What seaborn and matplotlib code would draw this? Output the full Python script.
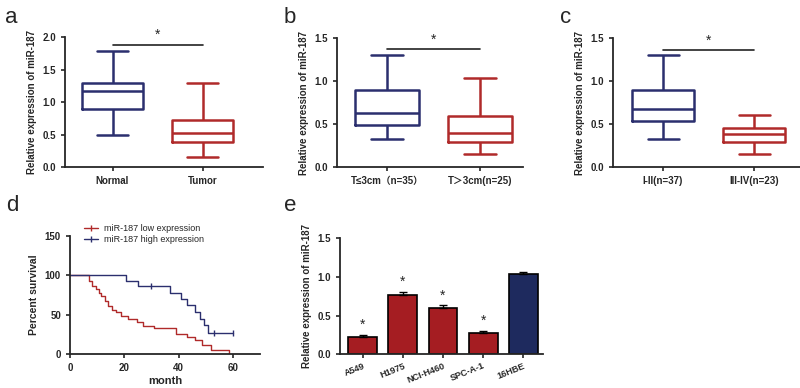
import numpy as np
import pandas as pd
import matplotlib
matplotlib.use("Agg")
import matplotlib.pyplot as plt
from matplotlib.lines import Line2D
import seaborn as sns

# box plot summaries: [min, Q1, median, Q3, max]
normal = [0.50, 0.89, 1.17, 1.30, 1.78]
tumor = [0.15, 0.38, 0.52, 0.73, 1.30]
small_t = [0.33, 0.49, 0.63, 0.90, 1.30]
large_t = [0.15, 0.29, 0.40, 0.59, 1.04]
early = [0.33, 0.54, 0.67, 0.90, 1.30]
late = [0.15, 0.29, 0.38, 0.45, 0.60]

labels_a = ["Normal", "Tumor"]
labels_b = ["T≤3cm（n=35）", "T＞3cm(n=25)"]
labels_c = ["I-II(n=37)", "III-IV(n=23)"]

# survival curves (month, percent)
low_t = [0, 6.9, 8.1, 9.6, 10.6, 11.6, 12.9, 14.1, 15.4, 16.9, 18.8, 21.3, 24.5, 26.9, 30.9, 39, 43, 46.2, 48.7, 52, 58.5]
low_s = [100, 92.4, 87, 82, 77.5, 73.3, 67, 60.6, 56.4, 53, 48.7, 44.5, 40.5, 36, 33, 26, 22.5, 18, 12, 5, 0]
high_t = [0, 20.5, 25, 37, 41, 43, 46, 48, 49.5, 50.7, 60]
high_s = [100, 92.5, 86, 77.5, 70, 62.5, 54, 45, 36.5, 27.5, 27.5]
high_cens_t = [30, 53, 60]
high_cens_s = [86, 27.5, 27.5]

# cell lines
cells = ["A549", "H1975", "NCI-H460", "SPC-A-1", "16HBE"]
cell_expr = [0.22, 0.77, 0.60, 0.28, 1.03]
cell_err = [0.03, 0.03, 0.03, 0.02, 0.03]

NAVY = "#2b2f6e"
RED = "#b02a2a"
BAR_RED = "#a51d22"
BAR_NAVY = "#1e2a5e"

sns.set_style("ticks")
plt.rcParams["font.family"] = ["Liberation Sans", "Noto Sans CJK SC", "DejaVu Sans"]
plt.rcParams["axes.linewidth"] = 1.3
plt.rcParams["xtick.major.width"] = 1.2
plt.rcParams["ytick.major.width"] = 1.2
plt.rcParams["xtick.major.size"] = 3
plt.rcParams["ytick.major.size"] = 3

fig = plt.figure(figsize=(8, 3.88), dpi=100)


def box_panel(rect, labels, g1, g2, ymax, xlim, sig_y):
    ax = fig.add_axes(rect)
    df = pd.DataFrame({"group": [labels[0]] * len(g1) + [labels[1]] * len(g2),
                       "value": g1 + g2})
    sns.boxplot(data=df, x="group", y="value", hue="group", palette=[NAVY, RED],
                fill=False, whis=(0, 100), width=0.68, linewidth=1.8, saturation=1,
                showfliers=False, legend=False, ax=ax)
    ax.set_ylim(0, ymax)
    ax.set_yticks(np.arange(0, ymax + 0.01, 0.5))
    ax.set_yticklabels([f"{v:.1f}" for v in np.arange(0, ymax + 0.01, 0.5)])
    ax.set_xlim(*xlim)
    ax.set_xlabel("")
    ax.set_ylabel("Relative expression of miR-187", fontsize=7, fontweight="bold")
    ax.tick_params(labelsize=7)
    for t in ax.get_xticklabels() + ax.get_yticklabels():
        t.set_fontweight("bold")
    ax.plot([0, 1], [sig_y, sig_y], color="#222222", lw=1.2)
    ax.text(0.5, sig_y + 0.02 * ymax, "*", ha="center", va="bottom", fontsize=10)
    sns.despine(ax=ax)
    return ax


box_panel([0.081, 0.5696, 0.2475, 0.335], labels_a, normal, tumor, 2.0, (-0.53, 1.67), 1.88)
box_panel([0.421, 0.5696, 0.2325, 0.3324], labels_b, small_t, large_t, 1.5, (-0.54, 1.46), 1.37)
box_panel([0.766, 0.5696, 0.234, 0.3324], labels_c, early, late, 1.5, (-0.55, 1.5), 1.36)

# survival panel
axd = fig.add_axes([0.0875, 0.0868, 0.2375, 0.3057])
sns.lineplot(x=low_t, y=low_s, drawstyle="steps-post", color=RED, lw=1.0,
             estimator=None, sort=False, ax=axd)
sns.lineplot(x=high_t, y=high_s, drawstyle="steps-post", color=NAVY, lw=1.0,
             estimator=None, sort=False, ax=axd)
axd.plot(high_cens_t, high_cens_s, ls="none", marker="|", ms=4, mew=1.0, color=NAVY)
axd.set_xlim(0, 70)
axd.set_ylim(0, 150)
axd.set_xticks([0, 20, 40, 60])
axd.set_yticks([0, 50, 100, 150])
axd.set_xlabel("month", fontsize=8, fontweight="bold", labelpad=2)
axd.set_ylabel("Percent survival", fontsize=7.5, fontweight="bold")
axd.tick_params(labelsize=7)
for t in axd.get_xticklabels() + axd.get_yticklabels():
    t.set_fontweight("bold")
handles = [Line2D([], [], color=RED, lw=1.0, marker="|", ms=4),
           Line2D([], [], color=NAVY, lw=1.0, marker="|", ms=4)]
axd.legend(handles, ["miR-187 low expression", "miR-187 high expression"],
           loc="upper left", bbox_to_anchor=(0.03, 1.17), frameon=False,
           fontsize=6.5, handlelength=1.6, labelspacing=0.3, handletextpad=0.6)
sns.despine(ax=axd)

# cell line bars
axe = fig.add_axes([0.425, 0.0868, 0.254, 0.2998])
sns.barplot(x=cells, y=cell_expr, hue=cells, palette=[BAR_RED] * 4 + [BAR_NAVY],
            edgecolor="black", linewidth=1.2, width=0.72, errorbar=None,
            saturation=1, legend=False, ax=axe)
axe.errorbar(range(len(cells)), cell_expr, yerr=[np.zeros(len(cells)), cell_err],
             fmt="none", ecolor="black", elinewidth=1.0, capsize=3, capthick=1.0)
for i, (v, e) in enumerate(zip(cell_expr, cell_err)):
    if cells[i] != "16HBE":
        axe.text(i, v + e + 0.04, "*", ha="center", va="bottom", fontsize=10)
axe.set_ylim(0, 1.5)
axe.set_yticks([0, 0.5, 1.0, 1.5])
axe.set_yticklabels(["0.0", "0.5", "1.0", "1.5"])
axe.set_xlim(-0.57, 4.5)
axe.set_ylabel("Relative expression of miR-187", fontsize=7, fontweight="bold")
axe.tick_params(axis="y", labelsize=7)
axe.tick_params(axis="x", labelsize=6.5, pad=2)
plt.setp(axe.get_xticklabels(), rotation=22, ha="right", rotation_mode="anchor")
for t in axe.get_xticklabels() + axe.get_yticklabels():
    t.set_fontweight("bold")
sns.despine(ax=axe)

# panel letters
for x, y, s in [(0.006, 0.955, "a"), (0.355, 0.955, "b"), (0.700, 0.955, "c"),
                (0.008, 0.47, "d"), (0.355, 0.47, "e")]:
    fig.text(x, y, s, fontsize=16, va="center", ha="left")

fig.savefig("out.png", dpi=100)
